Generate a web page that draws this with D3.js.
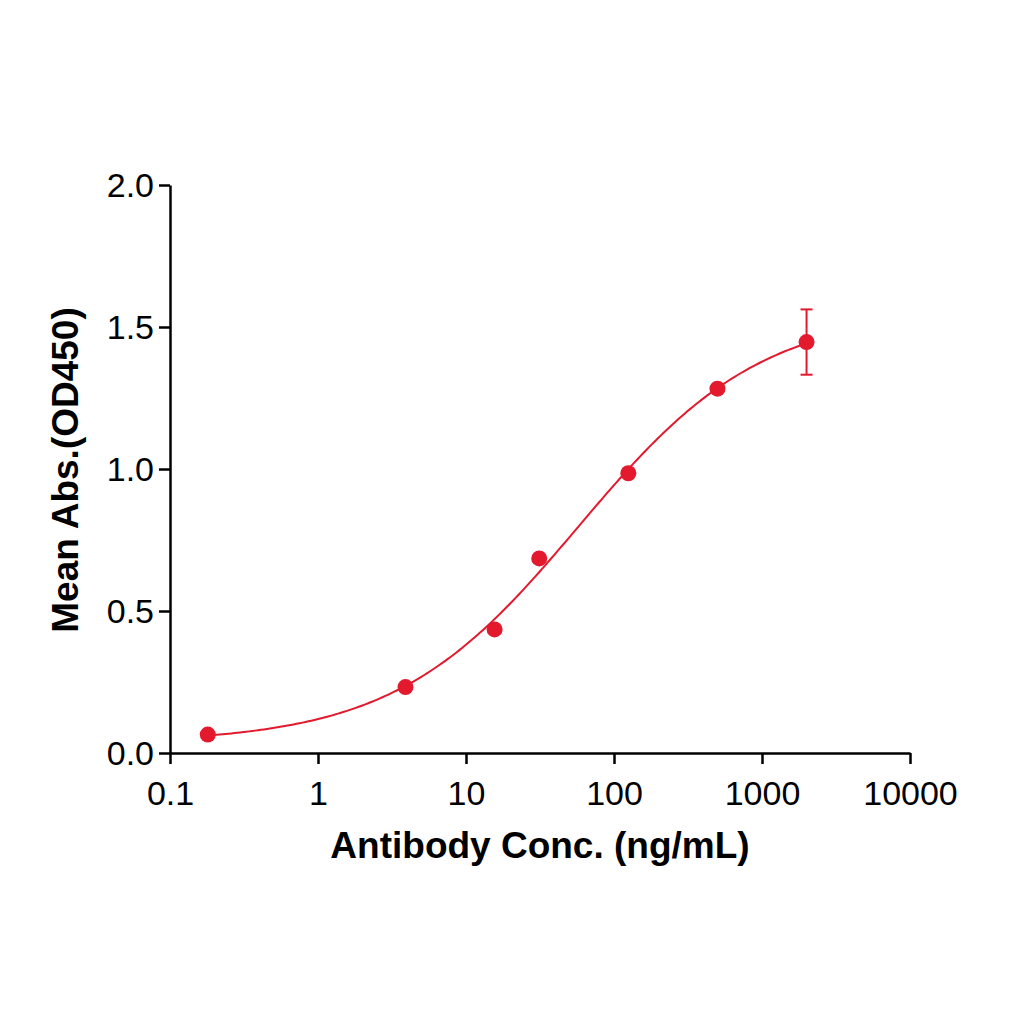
<!DOCTYPE html>
<html>
<head>
<meta charset="UTF-8" />
<script src="https://d3js.org/d3.v7.min.js"></script>
<style>
  body { margin: 0; background: #fff; }
  text { font-family: "Liberation Sans", Arial, sans-serif; }
</style>
</head>
<body>
<svg id="viz" width="1024" height="1024"></svg>
<script>
var conc = [0.18, 3.9, 15.6, 31.25, 125, 500, 2000];
var absMean = [0.065, 0.232, 0.435, 0.685, 0.985, 1.283, 1.447];
var absErr = [0, 0, 0, 0, 0, 0, 0.115];
var xTicks = [0.1, 1, 10, 100, 1000, 10000];
var yTicks = [0, 0.5, 1.0, 1.5, 2.0];
var red = "#e3192d";

var svg = d3.select("#viz");
var x = d3.scaleLog().domain([0.1, 10000]).range([170, 910]);
var y = d3.scaleLinear().domain([0, 2]).range([753, 185]);

// 4PL fit by crude grid search
function f4(p, c) { return p[0] + (p[1] - p[0]) / (1 + Math.pow(Math.pow(10, p[2]) / c, p[3])); }
var best = null, bestErr = Infinity;
for (var b = 0; b <= 0.1; b += 0.005)
  for (var t = 1.3; t <= 2.2; t += 0.02)
    for (var e = 1.0; e <= 2.6; e += 0.02)
      for (var h = 0.5; h <= 1.5; h += 0.02) {
        var p = [b, t, e, h], s = 0;
        for (var i = 0; i < conc.length; i++) { var d = f4(p, conc[i]) - absMean[i]; s += d * d; }
        if (s < bestErr) { bestErr = s; best = p; }
      }

var xs = d3.range(Math.log10(0.18), Math.log10(2000) + 0.001, 0.02).map(l => Math.pow(10, l));
svg.append("path")
  .attr("d", d3.line().x(c => x(c)).y(c => y(f4(best, c)))(xs))
  .attr("fill", "none").attr("stroke", red).attr("stroke-width", 2);

// axes
var xAxis = svg.append("g").attr("transform", "translate(0,753)")
  .call(d3.axisBottom(x).tickValues(xTicks).tickFormat(d3.format("")).tickSize(11).tickSizeOuter(0));
var yAxis = svg.append("g").attr("transform", "translate(170,0)")
  .call(d3.axisLeft(y).tickValues(yTicks).tickFormat(d3.format(".1f")).tickSize(11).tickSizeOuter(0));
[xAxis, yAxis].forEach(g => {
  g.selectAll("path, line").attr("stroke", "#000").attr("stroke-width", 2.5);
  g.selectAll("text").attr("font-size", 34).attr("fill", "#000").attr("font-family", "Liberation Sans, Arial, sans-serif");
});
xAxis.selectAll("text").attr("y", 20).attr("dy", "0.95em");
yAxis.selectAll("text").attr("x", -16).attr("dy", "0.35em");

// error bars
svg.selectAll(".err").data(conc.map((c, i) => [c, absMean[i], absErr[i]]).filter(d => d[2] > 0))
  .enter().append("g").each(function (d) {
    var g = d3.select(this), cx = x(d[0]);
    g.append("line").attr("x1", cx).attr("x2", cx).attr("y1", y(d[1] - d[2])).attr("y2", y(d[1] + d[2]));
    g.append("line").attr("x1", cx - 6).attr("x2", cx + 6).attr("y1", y(d[1] - d[2])).attr("y2", y(d[1] - d[2]));
    g.append("line").attr("x1", cx - 6).attr("x2", cx + 6).attr("y1", y(d[1] + d[2])).attr("y2", y(d[1] + d[2]));
    g.selectAll("line").attr("stroke", red).attr("stroke-width", 2);
  });

svg.selectAll("circle").data(conc).enter().append("circle")
  .attr("cx", d => x(d)).attr("cy", (d, i) => y(absMean[i])).attr("r", 8).attr("fill", red);

svg.append("text").attr("x", 540).attr("y", 858).attr("text-anchor", "middle")
  .attr("font-size", 37).attr("font-weight", "bold").text("Antibody Conc. (ng/mL)");
svg.append("text").attr("transform", "translate(78,470) rotate(-90)").attr("text-anchor", "middle")
  .attr("font-size", 37).attr("font-weight", "bold").text("Mean Abs.(OD450)");
</script>
</body>
</html>
